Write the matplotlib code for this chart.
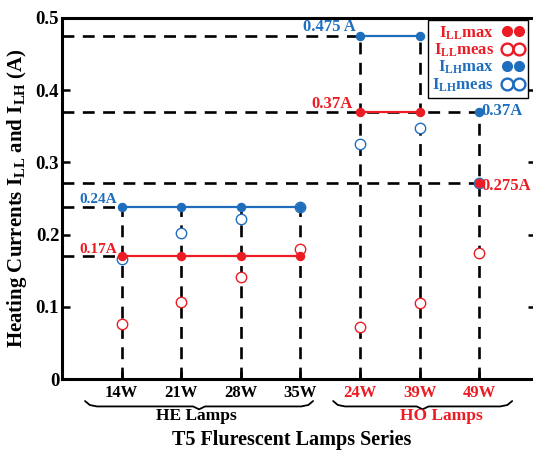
import matplotlib
matplotlib.use("Agg")
import matplotlib.pyplot as plt
import matplotlib.transforms as mtransforms
from matplotlib.lines import Line2D

plt.rcParams['font.family'] = ['Liberation Serif', 'DejaVu Serif']
plt.rcParams['font.weight'] = 'bold'
plt.rcParams['mathtext.fontset'] = 'custom'
plt.rcParams['mathtext.rm'] = 'Liberation Serif:bold'
plt.rcParams['mathtext.bf'] = 'Liberation Serif:bold'
plt.rcParams['mathtext.it'] = 'Liberation Serif:bold'

# lamp series
lamps = ['14W', '21W', '28W', '35W', '24W', '39W', '49W']
lamp_group = ['HE', 'HE', 'HE', 'HE', 'HO', 'HO', 'HO']

# heating currents (A)
ill_max = [0.17, 0.17, 0.17, 0.17, 0.37, 0.37, 0.272]
ill_meas = [0.076, 0.107, 0.141, 0.180, 0.072, 0.105, 0.174]
ilh_max = [0.238, 0.238, 0.238, 0.238, 0.475, 0.475, 0.37]
ilh_meas = [0.166, 0.202, 0.222, 0.238, 0.325, 0.348, 0.272]

RED = '#ec1c24'
BLUE = '#1f6ebe'

fig = plt.figure(figsize=(5.33, 4.54), dpi=100)
ax = fig.add_axes([62 / 533, 1 - 379 / 454, 474 / 533, 361 / 454])

x = list(range(1, len(lamps) + 1))
dash = dict(color='black', lw=1.9, dashes=(4.5, 3.2), zorder=1)

# vertical guides from 0 up to the highest max value of each lamp
for xi, a, b in zip(x, ill_max, ilh_max):
    ax.plot([xi, xi], [0, max(a, b)], **dash)

# horizontal guides to the left spine
ax.plot([0, x[0]], [ilh_max[0]] * 2, **dash)
ax.plot([0, x[0]], [ill_max[0]] * 2, **dash)
ax.plot([0, x[4]], [ilh_max[4]] * 2, **dash)
ax.plot([0, x[6]], [ill_max[4]] * 2, **dash)
ax.plot([0, x[6]], [ill_max[6]] * 2, **dash)

# solid max lines inside each group
he = [i for i, g in enumerate(lamp_group) if g == 'HE']
ho = [4, 5]
for idx in (he, ho):
    ax.plot([x[i] for i in idx], [ilh_max[i] for i in idx], color=BLUE, lw=1.6, zorder=2)
    ax.plot([x[i] for i in idx], [ill_max[i] for i in idx], color=RED, lw=1.6, zorder=2)

ax.plot(x, ilh_meas, 'o', ls='none', ms=7.5, mfc='white', mec=BLUE, mew=1.0, zorder=3)
ax.plot(x, ill_meas, 'o', ls='none', ms=7.5, mfc='white', mec=RED, mew=1.0, zorder=3)
ax.plot(x, ilh_max, 'o', ls='none', ms=5.8, color=BLUE, zorder=4)
ax.plot(x, ill_max, 'o', ls='none', ms=5.8, color=RED, zorder=4)

# value annotations
ax.text(4.92, 0.488, '0.475 A', color=BLUE, fontsize=12, ha='right', va='center')
ax.text(4.88, 0.381, '0.37A', color=RED, fontsize=12, ha='right', va='center')
ax.text(7.04, 0.371, '0.37A', color=BLUE, fontsize=12, ha='left', va='center')
ax.text(7.04, 0.267, '0.275A', color=RED, fontsize=12, ha='left', va='center')
ax.text(0.93, 0.248, '0.24A', color=BLUE, fontsize=11, ha='right', va='center')
ax.text(0.93, 0.179, '0.17A', color=RED, fontsize=11, ha='right', va='center')

ax.set_xlim(0, 7.95)
ax.set_ylim(0, 0.5)
ax.set_xticks(x)
ax.set_xticklabels(lamps, fontsize=12)
for lbl, g in zip(ax.get_xticklabels(), lamp_group):
    lbl.set_color('black' if g == 'HE' else RED)
ax.set_yticks([0, 0.1, 0.2, 0.3, 0.4, 0.5])
ax.set_yticklabels(['0', '0.1', '0.2', '0.3', '0.4', '0.5'], fontsize=13.5)
ax.tick_params(direction='in', length=6, width=1.8, right=True, pad=4)
ax.tick_params(axis='y', pad=2)
for s in ax.spines.values():
    s.set_linewidth(2.2)

ax.set_ylabel(r'Heating Currents I$_{\mathrm{LL}}$ and I$_{\mathrm{LH}}$ (A)',
              fontsize=15, fontweight='bold', labelpad=5)

# braces under the tick labels
trans = mtransforms.blended_transform_factory(ax.transData, ax.transAxes)


def brace(x0, x1):
    xc = (x0 + x1) / 2
    xs = [x0, x0 + 0.08, x0 + 0.2, xc - 0.1, xc, xc + 0.1, x1 - 0.2, x1 - 0.08, x1]
    ys = [-0.061, -0.072, -0.076, -0.076, -0.084, -0.076, -0.076, -0.072, -0.061]
    ax.plot(xs, ys, color='black', lw=1.3, transform=trans, clip_on=False,
            solid_capstyle='round', solid_joinstyle='round')


brace((85 - 62) / 59.6, (313 - 62) / 59.6)
brace((333 - 62) / 59.6, (512 - 62) / 59.6)

fig.text(196 / 533, 1 - 416 / 454, 'HE Lamps', fontsize=12.5, ha='center', va='center')
fig.text(441 / 533, 1 - 416 / 454, 'HO Lamps', fontsize=12.5, ha='center', va='center', color=RED)
fig.text(292 / 533, 1 - 440 / 454, 'T5 Flurescent Lamps Series', fontsize=14.5,
         ha='center', va='center')

# legend
handles = [
    Line2D([], [], ls='none', marker='o', ms=7, color=RED),
    Line2D([], [], ls='none', marker='o', ms=8.5, mfc='none', mec=RED, mew=1.7),
    Line2D([], [], ls='none', marker='o', ms=7, color=BLUE),
    Line2D([], [], ls='none', marker='o', ms=8.5, mfc='none', mec=BLUE, mew=1.7),
]
labels = [r'I$_{\mathrm{LL}}$max', r'I$_{\mathrm{LL}}$meas',
          r'I$_{\mathrm{LH}}$max', r'I$_{\mathrm{LH}}$meas']
leg = fig.legend(handles, labels, loc='upper right',
                 bbox_to_anchor=(528 / 533, 1 - 20 / 454), bbox_transform=fig.transFigure,
                 numpoints=2, markerfirst=False, fancybox=False, framealpha=1,
                 edgecolor='black', fontsize=12, handlelength=1.3, handletextpad=0.5,
                 labelspacing=0.0, borderpad=0.25, borderaxespad=0)
leg.get_frame().set_linewidth(1.0)
for t, c in zip(leg.get_texts(), [RED, RED, BLUE, BLUE]):
    t.set_color(c)

fig.savefig('out.png', dpi=100)
